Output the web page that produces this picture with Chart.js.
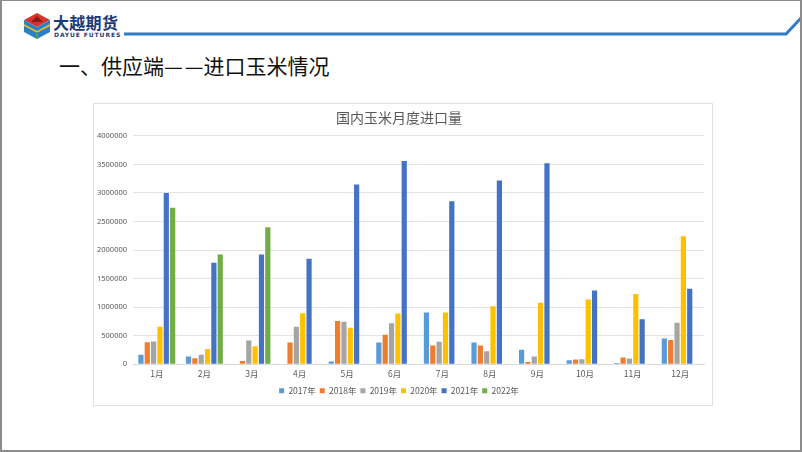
<!DOCTYPE html>
<html>
<head>
<meta charset="utf-8">
<script src="https://cdn.jsdelivr.net/npm/chart.js@4.4.1/dist/chart.umd.min.js"></script>
<style>
  body { margin: 0; background: #fff; }
  #slide {
    position: relative; width: 802px; height: 452px; box-sizing: border-box;
    border: 1px solid #8c8c8c; border-width: 1px 2px 2px 2px; overflow: hidden;
    font-family: "Noto Sans CJK SC", "Noto Sans", sans-serif;
  }
  #brand { position: absolute; left: 51px; top: 9px; color: #1d3a78; font-weight: 700; font-size: 16px; letter-spacing: 0.3px; }
  #brand-en { position: absolute; left: 52px; top: 30px; color: #1d3a78; font-weight: 700; font-size: 6px; letter-spacing: 0.9px; font-family: "DejaVu Sans", sans-serif; }
  #heading { position: absolute; left: 57px; top: 49px; font-size: 21px; color: #111; }
  #frame { position: absolute; left: 91px; top: 102px; width: 618px; height: 301px; border: 1px solid #e0e0e0; }
</style>
</head>
<body>
<div id="slide">
  <svg width="802" height="452" style="position:absolute;left:0;top:0">
    <polygon points="35,12 48,19 35,26 22,19" fill="#d8342a"/>
    <polygon points="35,15 41,21 29,21" fill="#8b1a1a"/>
    <polygon points="22,19 35,26 35,38 22,31" fill="#2d7fc6"/>
    <polygon points="48,19 35,26 35,38 48,31" fill="#2d7fc6"/>
    <polyline points="22,24 35,31 48,24" fill="none" stroke="#f2c318" stroke-width="1.5"/>
    <line x1="35" y1="31" x2="35" y2="38" stroke="#4cae4c" stroke-width="1.5"/>
    <polyline points="122,33 784,33 801,15" fill="none" stroke="#2e7cc4" stroke-width="3"/>
  </svg>
  <div id="brand">大越期货</div>
  <div id="brand-en">DAYUE FUTURES</div>
  <div id="heading">一、供应端—<span style="margin-left:2px">—</span>进口玉米情况</div>
  <div id="frame"><canvas id="c" width="618" height="301"></canvas></div>
</div>
<script>
const months = ["1月", "2月", "3月", "4月", "5月", "6月", "7月", "8月", "9月", "10月", "11月", "12月"];

const y2017 = [165000, 135000, 10000, 0, 47000, 382000, 906000, 382000, 253000, 71000, 24000, 453000];
const y2018 = [388000, 106000, 59000, 382000, 759000, 518000, 329000, 329000, 41000, 82000, 118000, 424000];
const y2019 = [400000, 165000, 418000, 659000, 747000, 718000, 394000, 229000, 135000, 88000, 100000, 729000];
const y2020 = [659000, 270000, 318000, 894000, 641000, 888000, 906000, 1018000, 1076000, 1135000, 1229000, 2241000];
const y2021 = [3000000, 1776000, 1920000, 1847000, 3147000, 3560000, 2853000, 3218000, 3518000, 1294000, 788000, 1324000];
const y2022 = [2740000, 1920000, 2400000, null, null, null, null, null, null, null, null, null];

const seriesNames = ["2017年", "2018年", "2019年", "2020年", "2021年", "2022年"];
const seriesData = [y2017, y2018, y2019, y2020, y2021, y2022];
const seriesColors = ["#5b9bd5", "#ed7d31", "#a5a5a5", "#ffc000", "#4472c4", "#70ad47"];

const txt = "#595959";
const font = '"Noto Sans CJK SC", "Noto Sans", sans-serif';

new Chart(document.getElementById("c"), {
  type: "bar",
  data: {
    labels: months,
    datasets: seriesNames.map((name, i) => ({
      label: name,
      data: seriesData[i],
      backgroundColor: seriesColors[i],
      borderWidth: 0,
      categoryPercentage: 0.8,
      barPercentage: 0.82,
    })),
  },
  options: {
    responsive: false,
    animation: false,
    layout: { padding: { left: 0, right: 8, top: 0, bottom: 0 } },
    scales: {
      x: {
        grid: { display: false, drawTicks: false },
        border: { color: "#d9d9d9" },
        ticks: { color: txt, font: { size: 8.5, family: font }, padding: 4 },
      },
      y: {
        min: 0,
        max: 4000000,
        afterFit: (s) => { s.width = 39; },
        grid: { color: "#e3e3e3", drawTicks: false },
        border: { display: false },
        ticks: {
          stepSize: 500000,
          color: txt,
          font: { size: 7.5, family: "Noto Sans, sans-serif" },
          padding: 6,
          callback: (v) => String(v),
        },
      },
    },
    plugins: {
      title: {
        display: true,
        text: "国内玉米月度进口量",
        color: txt,
        font: { size: 14, family: font, weight: "normal" },
        padding: { top: 5, bottom: 10 },
      },
      legend: {
        position: "bottom",
        labels: {
          boxWidth: 5,
          boxHeight: 5,
          padding: 4,
          color: txt,
          font: { size: 8.5, family: font },
        },
      },
      tooltip: { enabled: false },
    },
  },
});
</script>
</body>
</html>
